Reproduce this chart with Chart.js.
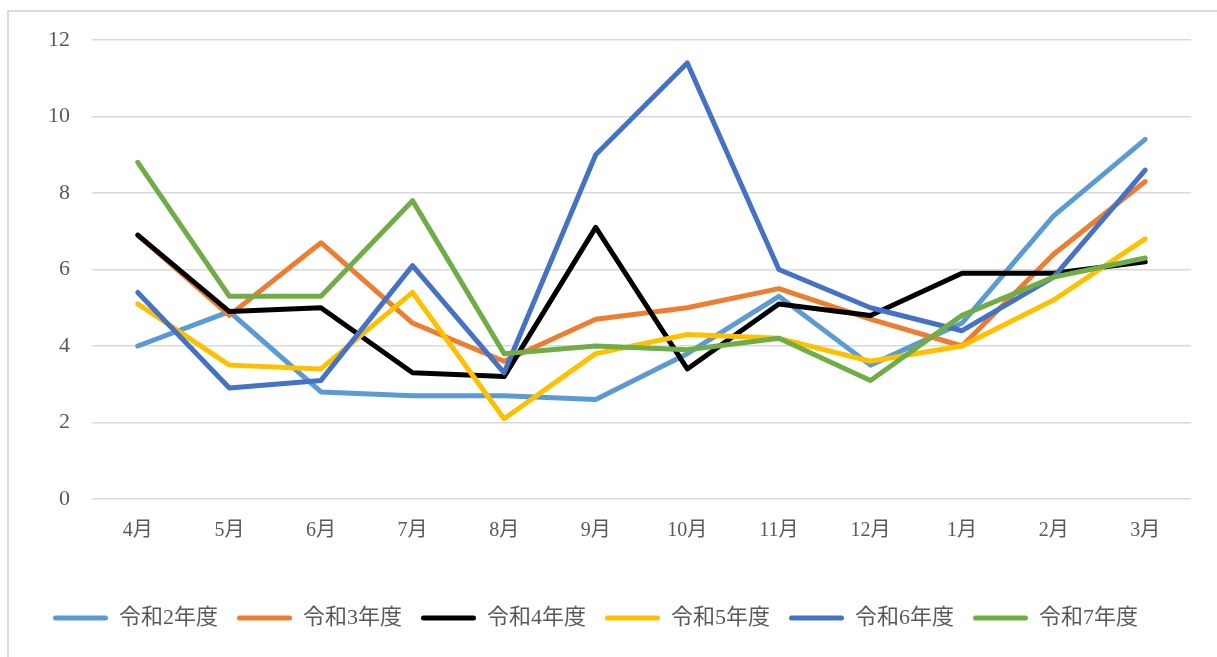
<!DOCTYPE html>
<html>
<head>
<meta charset="utf-8">
<script src="https://cdn.jsdelivr.net/npm/chart.js@4.4.1/dist/chart.umd.min.js"></script>
<style>
  html, body { margin: 0; padding: 0; background: #fff; }
  #wrap { position: relative; width: 1217px; height: 657px; overflow: hidden; }
  #frame { position: absolute; left: 7px; top: 10px; width: 1300px; height: 700px;
           border-left: 2px solid #dcdcdc; border-top: 2px solid #dcdcdc; box-sizing: border-box; }
  canvas { position: absolute; left: 0; top: 0; }
</style>
</head>
<body>
<div id="wrap">
  <div id="frame"></div>
  <canvas id="c" width="1217" height="657"></canvas>
</div>
<script>
const months = ['4月','5月','6月','7月','8月','9月','10月','11月','12月','1月','2月','3月'];
const seriesNames = ['令和2年度','令和3年度','令和4年度','令和5年度','令和6年度','令和7年度'];
const r2 = [4.0, 4.9, 2.8, 2.7, 2.7, 2.6, 3.8, 5.3, 3.5, 4.6, 7.4, 9.4];
const r3 = [6.9, 4.8, 6.7, 4.6, 3.6, 4.7, 5.0, 5.5, 4.7, 4.0, 6.4, 8.3];
const r4 = [6.9, 4.9, 5.0, 3.3, 3.2, 7.1, 3.4, 5.1, 4.8, 5.9, 5.9, 6.2];
const r5 = [5.1, 3.5, 3.4, 5.4, 2.1, 3.8, 4.3, 4.2, 3.6, 4.0, 5.2, 6.8];
const r6 = [5.4, 2.9, 3.1, 6.1, 3.3, 9.0, 11.4, 6.0, 5.0, 4.4, 5.8, 8.6];
const r7 = [8.8, 5.3, 5.3, 7.8, 3.8, 4.0, 3.9, 4.2, 3.1, 4.8, 5.8, 6.3];
const yTicks = [0, 2, 4, 6, 8, 10, 12];

const allSeries = [r2, r3, r4, r5, r6, r7];
const colors = ['#5B9BD5', '#ED7D31', '#000000', '#FFC000', '#4472C4', '#70AD47'];
const fontFam = "'Liberation Serif', 'Noto Sans CJK JP', serif";
const textColor = '#595959';

const legendFont = 22, legendPad = 19;
const plotBottom = 498;
const padBottom = 18;
const xAxisH = 89;

const datasets = allSeries.map((d, i) => ({
  label: seriesNames[i],
  data: d,
  borderColor: colors[i],
  backgroundColor: colors[i],
  borderWidth: 5,
  pointRadius: 0,
  pointHoverRadius: 0,
  tension: 0,
  borderJoinStyle: 'round',
  borderCapStyle: 'round',
  order: allSeries.length - i
}));

new Chart(document.getElementById('c'), {
  type: 'line',
  data: { labels: months, datasets },
  options: {
    responsive: false,
    animation: false,
    layout: { padding: { left: 0, right: 26, top: 40, bottom: padBottom } },
    plugins: {
      tooltip: { enabled: false },
      legend: {
        position: 'bottom',
        labels: {
          boxWidth: 55,
          boxHeight: 5,
          padding: legendPad,
          color: textColor,
          font: { family: fontFam, size: legendFont },
          useBorderRadius: true,
          borderRadius: 2.5,
          sort: (a, b) => a.datasetIndex - b.datasetIndex,
          generateLabels: (chart) => {
            const items = Chart.defaults.plugins.legend.labels.generateLabels(chart);
            return items.map(it => Object.assign(it, {
              lineWidth: 0,
              fillStyle: colors[it.datasetIndex],
              strokeStyle: colors[it.datasetIndex],
              lineCap: 'round'
            }));
          }
        }
      }
    },
    scales: {
      x: {
        offset: true,
        grid: { display: false, drawTicks: false },
        border: { display: false },
        ticks: { color: textColor, font: { family: fontFam, size: 20 }, padding: 20, maxRotation: 0, autoSkip: false },
        afterFit: (s) => { s.height = xAxisH; }
      },
      y: {
        min: 0, max: 12,
        afterBuildTicks: (s) => { s.ticks = yTicks.map(v => ({ value: v })); },
        grid: { color: '#d9d9d9', lineWidth: 1.5, drawTicks: false },
        border: { display: false },
        ticks: { color: textColor, font: { family: fontFam, size: 22 }, padding: 22 },
        afterFit: (s) => { s.width = 92; }
      }
    }
  }
});
</script>
</body>
</html>
